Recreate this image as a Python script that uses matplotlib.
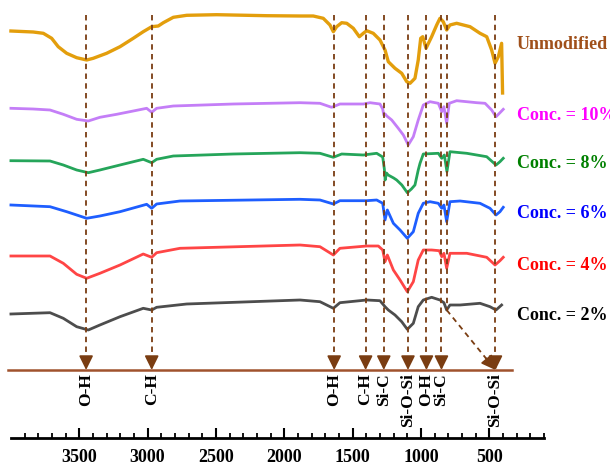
import matplotlib
matplotlib.use("Agg")
import matplotlib.pyplot as plt
from matplotlib.ticker import FixedLocator

plt.rcParams['font.family'] = 'Liberation Serif'
plt.rcParams['font.weight'] = 'bold'

# FTIR spectra, wavenumber (cm-1) vs stacked transmittance (a.u.)
wn_unmod = [4000, 3837, 3763, 3702, 3654, 3592, 3519, 3446, 3398, 3300, 3202, 3105, 3032, 2970,
            2922, 2885, 2812, 2714, 2495, 2129, 1885, 1788, 1715, 1666, 1641, 1617, 1580, 1543,
            1495, 1451, 1422, 1397, 1349, 1300, 1263, 1239, 1190, 1141, 1104, 1080, 1044, 1020,
            1002, 987, 963, 922, 885, 861, 837, 812, 788, 739, 641, 568, 519, 483, 458, 434,
            410, 403]
t_unmod = [434, 433, 431.7, 426.7, 418.3, 411.7, 407.3, 405, 406.7, 411.7, 418.3, 426.7, 433.3, 438.3,
           439, 442.3, 447.7, 449.7, 450.3, 449.3, 449, 449, 446.7, 440, 433.3, 438.3, 442.3, 441.7,
           436.7, 428.3, 431.7, 434.3, 431.7, 425, 415, 403.3, 396.7, 391.7, 383.3, 381.7, 386.7, 405,
           426.7, 428.3, 416.7, 428.3, 440, 446.7, 443.3, 435, 440, 441.7, 438.3, 431.7, 428.3, 415, 401.7, 408.3,
           421.7, 372]

wn_c10 = [4000, 3837, 3714, 3617, 3519, 3434, 3349, 3226, 3105, 3007, 2970, 2934, 2812, 2373,
          1885, 1739, 1654, 1593, 1422, 1373, 1300, 1280, 1272, 1262, 1250, 1214, 1166, 1129,
          1093, 1056, 1020, 983, 934, 873, 848, 832, 812, 793, 739, 592, 531, 483, 451, 422, 398]
t_c10 = [356.7, 356, 355, 350.7, 345.7, 344, 347.7, 350.7, 354, 356.7, 352.7, 356.7, 359, 361,
         362.3, 361.7, 357.7, 361, 361, 362.3, 361, 356, 350, 351, 349, 345, 336.7, 330,
         320, 328.3, 345, 360, 363.3, 361.7, 353.3, 358.3, 341.7, 361.7, 364.3, 362.3, 361.7, 355, 348.3, 352.3, 355.7]

wn_c8 = [4000, 3714, 3617, 3519, 3434, 3349, 3202, 3032, 2970, 2934, 2812, 2373, 1885, 1739,
         1641, 1580, 1422, 1324, 1280, 1268, 1262, 1252, 1240, 1200, 1178, 1140, 1100, 1070,
         1044, 1020, 1007, 983, 873, 848, 829, 810, 788, 665, 519, 451, 422, 398]
t_c8 = [304.3, 304, 300, 295, 292.3, 295, 300, 305.7, 302.3, 305.7, 309, 311, 312.3, 311.7,
        307.7, 311, 310, 311.7, 308, 296, 285, 292, 290, 287, 285, 280, 272.3, 276,
        280, 295, 301.7, 311, 311.7, 306.7, 310, 293.3, 313.3, 311.7, 308.3, 300, 303.3, 306.7]

wn_c6 = [4000, 3714, 3592, 3446, 3349, 3202, 3007, 2970, 2934, 2763, 1885, 1739, 1641, 1593,
         1397, 1324, 1280, 1263, 1246, 1202, 1153, 1100, 1056, 1020, 983, 934, 873, 848, 832,
         812, 788, 714, 568, 495, 451, 422, 398]
t_c6 = [260, 258.3, 253.3, 246.7, 249, 253.3, 260.7, 256.7, 261, 264, 265.7, 265, 261, 264.3,
        264.3, 265, 261.7, 245, 255, 241.7, 235, 226.7, 233.3, 251.7, 261.7, 263.3, 261.7, 256.7, 260,
        243.3, 263.3, 264, 261.7, 256.7, 250, 253.3, 257.7]

wn_c4 = [4000, 3714, 3617, 3519, 3446, 3349, 3202, 3032, 2970, 2934, 2763, 1885, 1739, 1641,
         1593, 1397, 1312, 1280, 1263, 1246, 1202, 1153, 1100, 1056, 1020, 983, 922, 866, 848,
         832, 812, 788, 665, 519, 458, 422, 398]
t_c4 = [209, 209, 201.7, 190.7, 186.7, 191.7, 200, 211, 207.7, 212.3, 216.7, 220, 218.3, 210,
        216.7, 219, 219, 215, 203.3, 210, 195, 185, 173.3, 183.3, 205, 215, 215, 214.3, 208.3,
        211.7, 196.7, 211.7, 211.7, 207.7, 200, 204.3, 207.7]

wn_c2 = [4000, 3714, 3617, 3519, 3434, 3349, 3202, 3032, 2970, 2934, 2714, 1885, 1739, 1641,
         1593, 1397, 1300, 1263, 1239, 1190, 1141, 1100, 1056, 1020, 983, 922, 861, 832, 812,
         788, 714, 568, 495, 451, 410]
t_c2 = [151, 152.3, 146.7, 138.3, 135, 140, 148.3, 156.7, 155, 157.7, 161, 165, 163.3, 156.7,
        162.3, 165, 164.3, 158.3, 155, 150, 143.3, 135.7, 141.7, 158.3, 165, 167.7, 165, 162.3, 155,
        160, 160, 161.7, 158.3, 155, 160]

series = [
    (wn_unmod, t_unmod, '#E39E0C', 2.4, 'Unmodified', '#A0501A', 420),
    (wn_c10, t_c10, '#C47EF7', 2.0, 'Conc. = 10%', '#FF00FF', 350),
    (wn_c8, t_c8, '#25A55A', 2.0, 'Conc. = 8%', '#008000', 301),
    (wn_c6, t_c6, '#1E5EFF', 2.0, 'Conc. = 6%', '#0000FF', 252),
    (wn_c4, t_c4, '#FF4545', 2.0, 'Conc. = 4%', '#FF0000', 200),
    (wn_c2, t_c2, '#4D4D4D', 2.0, 'Conc. = 2%', '#000000', 150),
]

# band assignments
band_wn = [3450, 2970, 1635, 1405, 1272, 1095, 960, 850, 455]
band_names = ['O-H', 'C-H', 'O-H', 'C-H', 'Si-C', 'Si-O-Si', 'O-H', 'Si-C', 'Si-O-Si']
# extra mark at 812 which bends down to the 455 label
bend_wn, bend_t = 812, 155

line_top = 450
base_t = 95
brown = '#7A3D12'
head = '-|>,head_length=0.85,head_width=0.42'

fig = plt.figure(figsize=(6.1, 4.65), dpi=100)
ax = fig.add_axes([0, 0, 1, 1])
ax.set_xlim(4080, -383)
ax.set_ylim(0, 465)

for wn, t, c, lw, name, lc, ty in series:
    ax.plot(wn, t, color=c, lw=lw, solid_joinstyle='round', zorder=3)
    ax.text(297, ty, name, color=lc, fontsize=13, fontweight='bold', va='center', ha='left')

dash = (0, (3, 2.4))
for w, name in zip(band_wn, band_names):
    ax.plot([w, w], [line_top, base_t + 10], color=brown, lw=1.3, ls=dash, zorder=4)
    ax.annotate('', xy=(w, base_t), xytext=(w, base_t + 12),
                arrowprops=dict(arrowstyle=head, color=brown, lw=1.3, shrinkA=0, shrinkB=0),
                zorder=5)
    ax.text(w, base_t - 3, name, rotation=90, ha='center', va='top', fontsize=12.5,
            fontweight='bold', color='black')

# bent arrow: dashed run from the 812 mark to the 455 band, solid head at the end
ax.plot([bend_wn, bend_wn], [line_top, bend_t], color=brown, lw=1.3, ls=dash, zorder=4)
ax.plot([bend_wn, band_wn[-1]], [bend_t, base_t], color=brown, lw=1.3, ls=dash, zorder=4)
f = 0.2
ax.annotate('', xy=(band_wn[-1], base_t),
            xytext=(band_wn[-1] + f * (bend_wn - band_wn[-1]), base_t + f * (bend_t - base_t)),
            arrowprops=dict(arrowstyle=head, color=brown, lw=1.3, shrinkA=0, shrinkB=0),
            zorder=5)

ax.plot([4025, 335], [base_t, base_t], color='#A0522D', lw=1.8, zorder=4)

# wavenumber axis
for s in ['top', 'left', 'right']:
    ax.spines[s].set_visible(False)
ax.spines['bottom'].set_position(('data', 26.7))
ax.spines['bottom'].set_bounds(4000, 100)
ax.spines['bottom'].set_linewidth(2)
ax.xaxis.set_major_locator(FixedLocator([3500, 3000, 2500, 2000, 1500, 1000, 500]))
ax.xaxis.set_minor_locator(FixedLocator([w for w in range(100, 4000, 100) if w % 500]))
ax.tick_params(axis='x', which='major', direction='in', length=7, width=1.5, pad=7.5,
               labelsize=13)
ax.tick_params(axis='x', which='minor', direction='in', length=3.5, width=1.3)
ax.set_yticks([])
for lab in ax.get_xticklabels():
    lab.set_fontweight('bold')

fig.savefig('out.png', dpi=100)
